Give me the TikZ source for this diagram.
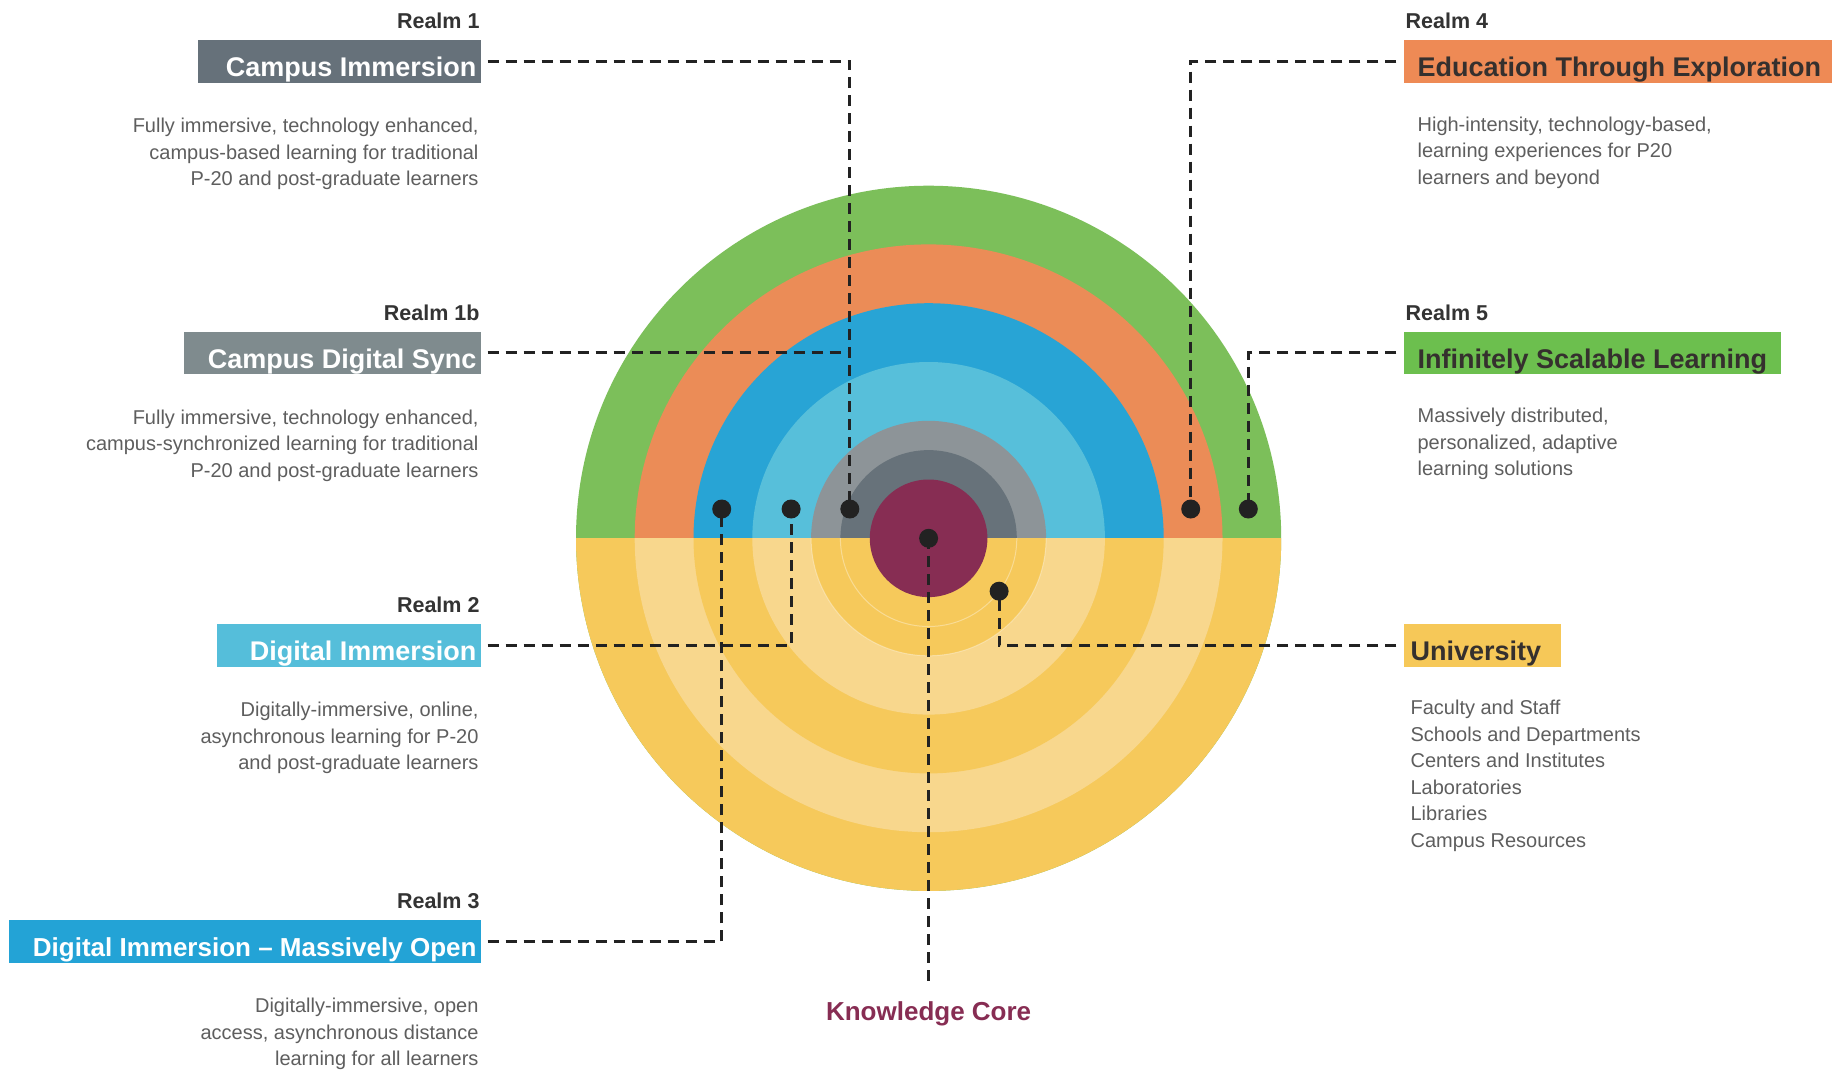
\documentclass[tikz,border=0pt]{standalone}
\usepackage{fontspec}
\setmainfont{Liberation Sans}
\definecolor{cgreen}{HTML}{7CBF5A}
\definecolor{corange}{HTML}{EB8C57}
\definecolor{cblue}{HTML}{28A4D5}
\definecolor{clblue}{HTML}{57BFDA}
\definecolor{cgrayl}{HTML}{8D9498}
\definecolor{cgrayd}{HTML}{67727A}
\definecolor{cmaroon}{HTML}{872D53}
\definecolor{cyellow}{HTML}{F6C95B}
\definecolor{cyellowl}{HTML}{F8D78D}
\definecolor{bci}{HTML}{66717A}
\definecolor{bcds}{HTML}{7F8B8E}
\definecolor{bdi}{HTML}{55BEDA}
\definecolor{bdimo}{HTML}{23A3D6}
\definecolor{bete}{HTML}{EE8A55}
\definecolor{bisl}{HTML}{6CBF4E}
\definecolor{buniv}{HTML}{F6C858}
\definecolor{labeltext}{HTML}{333333}
\definecolor{desctext}{HTML}{5E5E5E}
\definecolor{darktitle}{HTML}{35302E}
\definecolor{linecol}{HTML}{222222}
\begin{document}
\begin{tikzpicture}[x=1pt,y=-1pt,
  realm/.style={font=\fontsize{21.5}{24}\selectfont\bfseries, text=labeltext, inner sep=0pt},
  boxr/.style={rectangle, inner sep=0pt, minimum height=42.3pt},
  ttl/.style={font=\fontsize{27}{30}\selectfont\bfseries, inner sep=0pt},
  desc/.style={font=\fontsize{20}{26.5}\selectfont, text=desctext, inner sep=0pt},
  link/.style={draw=linecol, line width=3.2pt, dash pattern=on 11pt off 7pt, shorten <=7pt},
  dotn/.style={circle, fill=linecol, inner sep=0pt, minimum size=19pt}]
\useasboundingbox[fill=white] (0,0) rectangle (1843,1069);
\coordinate (c) at (928.6,538.3);
% upper rings
\fill[cgreen] (c) circle[radius=352.6pt];
\fill[corange] (c) circle[radius=293.9pt];
\fill[cblue] (c) circle[radius=235.1pt];
\fill[clblue] (c) circle[radius=176.3pt];
\fill[cgrayl] (c) circle[radius=117.5pt];
\fill[cgrayd] (c) circle[radius=88.2pt];
% lower half
\begin{scope}
\clip (0,538.3) rectangle (1843,1069);
\fill[cyellow] (c) circle[radius=352.6pt];
\fill[cyellowl] (c) circle[radius=293.9pt];
\fill[cyellow] (c) circle[radius=235.1pt];
\fill[cyellowl] (c) circle[radius=176.3pt];
\fill[cyellow] (c) circle[radius=117.5pt];
\draw[white, opacity=0.35, line width=1pt] (c) circle[radius=88.2pt];
\draw[white, opacity=0.35, line width=1pt] (c) circle[radius=117.5pt];
\end{scope}
\fill[cmaroon] (c) circle[radius=58.8pt];

% left boxes
\node[boxr, fill=bci, minimum width=282.1pt, anchor=north east] (ci) at (480.7,40) {};
\node[boxr, fill=bcds, minimum width=296.2pt, anchor=north east] (cds) at (480.7,331.5) {};
\node[boxr, fill=bdi, minimum width=263.3pt, anchor=north east] (di) at (480.7,624) {};
\node[boxr, fill=bdimo, minimum width=471.3pt, anchor=north east] (dimo) at (480.7,920) {};
% right boxes
\node[boxr, fill=bete, minimum width=427.9pt, anchor=north west] (ete) at (1403.4,40) {};
\node[boxr, fill=bisl, minimum width=377.3pt, anchor=north west] (isl) at (1403.4,331.5) {};
\node[boxr, fill=buniv, minimum width=157.5pt, anchor=north west] (univ) at (1403.4,624) {};

% titles
\node[ttl, text=white, anchor=base east] (tci) at ([shift={(-4,-6)}]ci.south east) {Campus Immersion};
\node[ttl, text=white, anchor=base east] (tcds) at ([shift={(-4,-6)}]cds.south east) {Campus Digital Sync};
\node[ttl, text=white, anchor=base east] (tdi) at ([shift={(-4,-6)}]di.south east) {Digital Immersion};
\node[ttl, font=\fontsize{26}{30}\selectfont\bfseries, text=white, anchor=base east] (tdimo) at ([shift={(-4,-6)}]dimo.south east) {Digital Immersion -- Massively Open};
\node[ttl, text=darktitle, anchor=base west] (tete) at ([shift={(14,-6)}]ete.south west) {Education Through Exploration};
\node[ttl, text=darktitle, anchor=base west] (tisl) at ([shift={(14,-6)}]isl.south west) {Infinitely Scalable Learning};
\node[ttl, text=darktitle, anchor=base west] (tuniv) at ([shift={(7,-6)}]univ.south west) {University};

% realm labels
\node[realm, anchor=base east] (r1) at ([shift={(-1,-11.5)}]ci.north east) {Realm 1};
\node[realm, anchor=base east] (r1b) at ([shift={(-1,-11.5)}]cds.north east) {Realm 1b};
\node[realm, anchor=base east] (r2) at ([shift={(-1,-11.5)}]di.north east) {Realm 2};
\node[realm, anchor=base east] (r3) at ([shift={(-1,-11.5)}]dimo.north east) {Realm 3};
\node[realm, anchor=base west] (r4) at ([shift={(2,-11.5)}]ete.north west) {Realm 4};
\node[realm, anchor=base west] (r5) at ([shift={(2,-11.5)}]isl.north west) {Realm 5};

% descriptions (base anchor = last line baseline)
\node[desc, align=right, anchor=base east] (dci) at ([shift={(-2,103)}]ci.south east) {Fully immersive, technology enhanced,\\campus-based learning for traditional\\P-20 and post-graduate learners};
\node[desc, align=right, anchor=base east] (dcds) at ([shift={(-2,103)}]cds.south east) {Fully immersive, technology enhanced,\\campus-synchronized learning for traditional\\P-20 and post-graduate learners};
\node[desc, align=right, anchor=base east] (ddi) at ([shift={(-2,103)}]di.south east) {Digitally-immersive, online,\\asynchronous learning for P-20\\and post-graduate learners};
\node[desc, align=right, anchor=base east] (ddimo) at ([shift={(-2,103)}]dimo.south east) {Digitally-immersive, open\\access, asynchronous distance\\learning for all learners};
\node[desc, align=left, anchor=base west] (dete) at ([shift={(14,101.5)}]ete.south west) {High-intensity, technology-based,\\learning experiences for P20\\learners and beyond};
\node[desc, align=left, anchor=base west] (disl) at ([shift={(14,101.5)}]isl.south west) {Massively distributed,\\personalized, adaptive\\learning solutions};
\node[desc, align=left, anchor=base west] (duniv) at ([shift={(7,180.5)}]univ.south west) {Faculty and Staff\\Schools and Departments\\Centers and Institutes\\Laboratories\\Libraries\\Campus Resources};

% Knowledge core label
\node[font=\fontsize{26}{30}\selectfont\bfseries, text=cmaroon, inner sep=0pt, anchor=base] (kc) at (928.6,1020) {Knowledge Core};

% dot positions
\coordinate (p1) at (849.8,509);
\coordinate (p2) at (791.1,509);
\coordinate (p3) at (721.7,509);
\coordinate (p4) at (1190.7,509);
\coordinate (p5) at (1248.3,509);
\coordinate (pu) at (999.1,591.2);
\coordinate (kcend) at (928.6,981);
\coordinate (j1b) at (cds.east -| p1);

% connectors
\draw[link] (ci.east) -| (p1);
\draw[link] (cds.east) -- (j1b);
\draw[link] (di.east) -| (p2);
\draw[link] (dimo.east) -| (p3);
\draw[link] (ete.west) -| (p4);
\draw[link] (isl.west) -| (p5);
\draw[link] (univ.west) -| (pu);
\draw[link, shorten <=0pt] (c) -- (kcend);

% dots
\node[dotn] (d1) at (p1) {};
\node[dotn] (d2) at (p2) {};
\node[dotn] (d3) at (p3) {};
\node[dotn] (d4) at (p4) {};
\node[dotn] (d5) at (p5) {};
\node[dotn] (du) at (pu) {};
\node[dotn] (dc) at (c) {};
\end{tikzpicture}
\end{document}
